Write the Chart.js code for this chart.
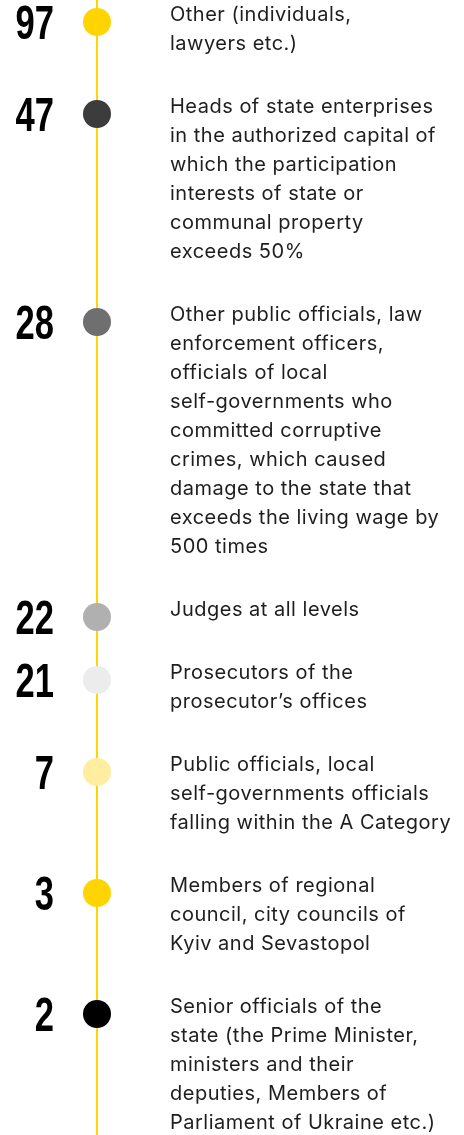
<!DOCTYPE html>
<html>
<head>
<meta charset="utf-8">
<script src="https://cdn.jsdelivr.net/npm/chart.js@4"></script>
<style>
  html, body { margin: 0; padding: 0; background: #fff; }
  #wrap { width: 464px; height: 1135px; position: relative; }
</style>
</head>
<body>
<div id="wrap"><canvas id="timeline"></canvas></div>
<script>
// values, top to bottom
const counts = [97, 47, 28, 22, 21, 7, 3, 2]

// categories, wrapped the same way as the picture
const categories = [
  ["Other (individuals,", "lawyers etc.)"],
  ["Heads of state enterprises", "in the authorized capital of", "which the participation", "interests of state or", "communal property", "exceeds 50%"],
  ["Other public officials, law", "enforcement officers,", "officials of local", "self-governments who", "committed corruptive", "crimes, which caused", "damage to the state that", "exceeds the living wage by", "500 times"],
  ["Judges at all levels"],
  ["Prosecutors of the", "prosecutor\u2019s offices"],
  ["Public officials, local", "self-governments officials", "falling within the A Category"],
  ["Members of regional", "council, city councils of", "Kyiv and Sevastopol"],
  ["Senior officials of the", "state (the Prime Minister,", "ministers and their", "deputies, Members of", "Parliament of Ukraine etc.)"]
]

const dotColors = ['#ffd400', '#3c3c3c', '#6f6f6f', '#b0b0b0', '#ececec', '#ffeda0', '#ffd400', '#000000']

// layout
const LINE_H = 29
const FIRST_LINE = 15
const BLOCK_GAP = 34
const DOT_OFFSET = 7

// each dot sits next to its text block, so y follows the number of text lines
let points = []
let blockTop = FIRST_LINE
categories.forEach((lines, i) => {
  points.push({x: 0, y: blockTop + DOT_OFFSET})
  blockTop += lines.length * LINE_H + BLOCK_GAP
})

const axisLine = {
  id: 'axisLine',
  beforeDatasetsDraw(chart) {
    const ctx = chart.ctx
    const x = chart.scales.x.getPixelForValue(0)
    ctx.save()
    ctx.strokeStyle = '#ffd400'
    ctx.lineWidth = 2
    ctx.beginPath()
    ctx.moveTo(x, 0)
    ctx.lineTo(x, chart.height)
    ctx.stroke()
    ctx.restore()
  }
}

const labelsPlugin = {
  id: 'labels',
  afterDatasetsDraw(chart) {
    const ctx = chart.ctx
    const meta = chart.getDatasetMeta(0)
    meta.data.forEach((pt, i) => {
      // big number on the left, squeezed to look condensed
      ctx.save()
      ctx.fillStyle = '#000'
      ctx.font = 'bold 48px "Liberation Sans"'
      ctx.textAlign = 'right'
      ctx.textBaseline = 'alphabetic'
      ctx.translate(54, pt.y + 17)
      ctx.scale(0.72, 1)
      ctx.fillText(String(counts[i]), 0, 0)
      ctx.restore()

      // category text on the right
      ctx.save()
      ctx.fillStyle = '#1e1e1e'
      ctx.font = '20px Inter'
      ctx.letterSpacing = '0.5px'
      ctx.textAlign = 'left'
      ctx.textBaseline = 'middle'
      categories[i].forEach((line, j) => {
        ctx.fillText(line, 170, pt.y - DOT_OFFSET + j * LINE_H)
      })
      ctx.restore()
    })
  }
}

new Chart(document.getElementById('timeline'), {
  type: 'scatter',
  data: {
    datasets: [{
      data: points,
      backgroundColor: dotColors,
      borderWidth: 0,
      pointRadius: 14,
      pointHoverRadius: 14
    }]
  },
  options: {
    responsive: true,
    maintainAspectRatio: false,
    animation: false,
    layout: { autoPadding: false, padding: { left: 0, right: 270, top: 0, bottom: 0 } },
    scales: {
      x: { type: 'linear', min: -1, max: 1, display: false },
      y: { type: 'linear', min: 0, max: 1135, reverse: true, display: false }
    },
    plugins: {
      legend: { display: false },
      tooltip: { enabled: false }
    }
  },
  plugins: [axisLine, labelsPlugin]
})
</script>
</body>
</html>
